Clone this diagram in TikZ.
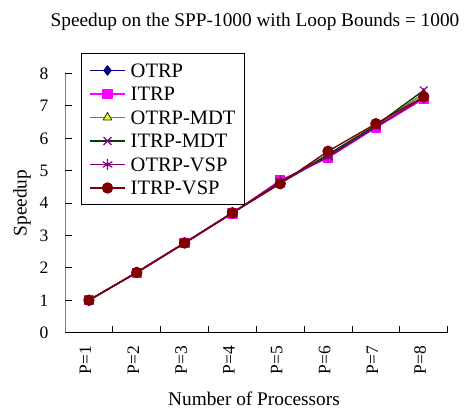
\documentclass[tikz,border=0pt]{standalone}
\usepackage{fontspec}
\setmainfont{Liberation Serif}
\usetikzlibrary{plotmarks}

\definecolor{cOtrp}{RGB}{0,0,128}
\definecolor{cItrp}{RGB}{255,0,255}
\definecolor{cOmdtLine}{RGB}{120,120,80}
\definecolor{cOmdtFill}{RGB}{255,255,0}
\definecolor{cImdtLine}{RGB}{0,64,0}
\definecolor{cPurple}{RGB}{128,0,128}
\definecolor{cDarkRed}{RGB}{128,0,0}
\definecolor{cAxisGray}{RGB}{128,128,128}

\tikzset{
  ticklabel/.style={font=\fontsize{17.5}{18}\selectfont, inner sep=0pt},
  titlelabel/.style={font=\fontsize{19.3}{20}\selectfont, inner sep=0pt},
  legendlabel/.style={font=\fontsize{20.5}{21}\selectfont, inner sep=0pt, anchor=west},
  seriesline/.style={line width=1.4pt, line join=round},
  sOtrp/.style={seriesline, draw=cOtrp, mark=diamond*, mark size=4.5pt,
    mark options={draw=cOtrp, fill=cOtrp, solid}},
  sItrp/.style={seriesline, draw=cItrp, mark=square*, mark size=4.5pt,
    mark options={draw=cItrp, fill=cItrp, solid}},
  sOmdt/.style={seriesline, draw=cOmdtLine, mark=triangle*, mark size=5pt,
    mark options={draw=cImdtLine, fill=cOmdtFill, line width=0.8pt, solid}},
  sImdt/.style={seriesline, draw=cImdtLine, mark=x, mark size=5.5pt,
    mark options={draw=cPurple, line width=1.2pt, solid}},
  sOvsp/.style={seriesline, draw=cPurple, mark=asterisk, mark size=5.5pt,
    mark options={draw=cPurple, line width=1.2pt, solid}},
  sIvsp/.style={seriesline, draw=cDarkRed, mark=*, mark size=5pt,
    mark options={draw=cDarkRed, fill=cDarkRed, solid}},
}

\begin{document}
\begin{tikzpicture}[x=1pt, y=-1pt]
  \useasboundingbox (0,0) rectangle (469,411);

  % title and axis titles
  \node[titlelabel] (title) at (255,22) {Speedup on the SPP-1000 with Loop Bounds = 1000};
  \node[titlelabel, rotate=90] (ytitle) at (22,203) {Speedup};
  \node[titlelabel] (xtitle) at (254,399) {Number of Processors};

  % axes
  \draw[cAxisGray, line width=1pt] (65,73.3) -- (65,332.7);
  \draw[black, line width=1.2pt] (64.5,332.7) -- (447.7,332.7);

  % value axis ticks and labels
  \foreach \v in {0,...,8} {
    \draw[black, line width=0.8pt] (65,332.7-\v*32.4) -- (71.5,332.7-\v*32.4);
    \node[ticklabel, anchor=east] (ylab\v) at (48.5,332.7-\v*32.4) {\v};
  }
  % category axis ticks and labels
  \foreach \i in {1,...,8} {
    \draw[black, line width=0.8pt] (65+\i*47.83,332.7) -- (65+\i*47.83,326);
    \node[ticklabel, rotate=90, anchor=east] (xlab\i) at (65+\i*47.83-23.9-3.5,346) {P=\i};
  }

  % data series
  \begin{scope}[shift={(65,332.7)}, x=47.83pt, y=32.4pt]
    \draw[sOtrp] plot coordinates {(0.5,1.00) (1.5,1.86) (2.5,2.77) (3.5,3.70) (4.5,4.62) (5.5,5.45) (6.5,6.36) (7.5,7.25)};
    \draw[sItrp] plot coordinates {(0.5,1.00) (1.5,1.85) (2.5,2.76) (3.5,3.68) (4.5,4.70) (5.5,5.40) (6.5,6.33) (7.5,7.22)};
    \draw[sOmdt] plot coordinates {(0.5,1.00) (1.5,1.86) (2.5,2.77) (3.5,3.70) (4.5,4.62) (5.5,5.50) (6.5,6.40) (7.5,7.38)};
    \draw[sImdt] plot coordinates {(0.5,1.00) (1.5,1.86) (2.5,2.77) (3.5,3.70) (4.5,4.62) (5.5,5.50) (6.5,6.40) (7.5,7.48)};
    \draw[sOvsp] plot coordinates {(0.5,1.00) (1.5,1.86) (2.5,2.77) (3.5,3.70) (4.5,4.68) (5.5,5.42) (6.5,6.35) (7.5,7.25)};
    \draw[sIvsp] plot coordinates {(0.5,1.00) (1.5,1.86) (2.5,2.77) (3.5,3.70) (4.5,4.60) (5.5,5.60) (6.5,6.45) (7.5,7.28)};
  \end{scope}

  % legend: a short line sample with its marker in the middle, then the name
  \draw[black, fill=white, line width=0.8pt] (81,53.3) rectangle (244.3,204);
  \foreach \st/\lab [count=\k from 0] in {sOtrp/OTRP, sItrp/ITRP, sOmdt/OTRP-MDT, sImdt/ITRP-MDT, sOvsp/OTRP-VSP, sIvsp/ITRP-VSP} {
    \draw[\st, mark=none] (90,70.5+\k*23.5) -- (125,70.5+\k*23.5);
    \draw[\st] plot coordinates {(107.5,70.5+\k*23.5)};
    \node[legendlabel] (leg\k) at (130.5,70.5+\k*23.5) {\lab};
  }
\end{tikzpicture}
\end{document}
